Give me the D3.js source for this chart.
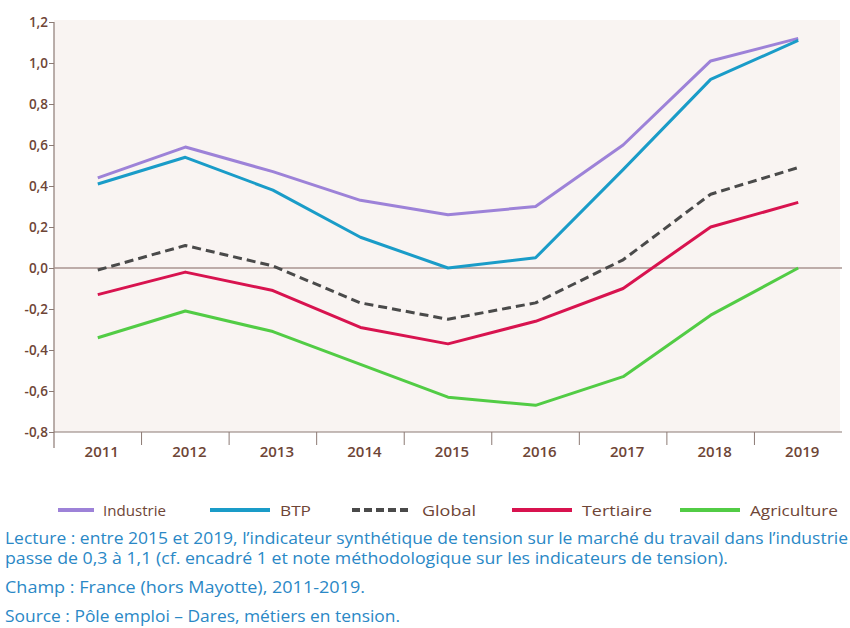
<!DOCTYPE html>
<html><head><meta charset="utf-8">
<script src="https://cdn.jsdelivr.net/npm/d3@7"></script>
<style>
body{margin:0;background:#fff;}
svg{display:block;font-family:"Open Sans",sans-serif;}
</style></head>
<body><svg id="c" width="850" height="628"></svg>
<script>
const years = ["2011","2012","2013","2014","2015","2016","2017","2018","2019"];
const industrie   = [0.44, 0.59, 0.47, 0.33, 0.26, 0.30, 0.60, 1.01, 1.12];
const btp         = [0.41, 0.54, 0.38, 0.15, 0.00, 0.05, 0.48, 0.92, 1.11];
const global      = [-0.01, 0.11, 0.01, -0.17, -0.25, -0.17, 0.04, 0.36, 0.49];
const tertiaire   = [-0.13, -0.02, -0.11, -0.29, -0.37, -0.26, -0.10, 0.20, 0.32];
const agriculture = [-0.34, -0.21, -0.31, -0.47, -0.63, -0.67, -0.53, -0.23, 0.00];
const yTicks = [1.2, 1.0, 0.8, 0.6, 0.4, 0.2, 0.0, -0.2, -0.4, -0.6, -0.8];
const seriesNames = ["Industrie","BTP","Global","Tertiaire","Agriculture"];
const notes = [
  "Lecture : entre 2015 et 2019, l\u2019indicateur synthétique de tension sur le marché du travail dans l\u2019industrie",
  "passe de 0,3 à 1,1 (cf. encadré 1 et note méthodologique sur les indicateurs de tension).",
  "Champ : France (hors Mayotte), 2011-2019.",
  "Source : Pôle emploi – Dares, métiers en tension."
];

const series = [
  {name:"Industrie", values:industrie, color:"#9d82d8", dash:null},
  {name:"BTP", values:btp, color:"#1a9cc8", dash:null},
  {name:"Global", values:global, color:"#4a4a4a", dash:"9,5"},
  {name:"Tertiaire", values:tertiaire, color:"#d8134f", dash:null},
  {name:"Agriculture", values:agriculture, color:"#52cc45", dash:null}
];

const svg = d3.select("#c");
const L = 54, R = 842, T = 20, B = 432;
const x = d3.scaleBand().domain(years).range([L, R]);
const y = d3.scaleLinear().domain([-0.8, 1.2]).range([B, 22]);
const loc = d3.formatLocale({decimal:",", thousands:" ", grouping:[3], currency:["","€"], minus:"-"});
const fmt = loc.format(".1f");
const axisCol = "#8c7a74", txtCol = "#6e4536";

svg.append("rect").attr("x", L).attr("y", T).attr("width", 840 - L).attr("height", B - T).attr("fill", "#f9f4f2");

// y axis
const ya = svg.append("g").attr("transform", `translate(${L},0)`)
  .call(d3.axisLeft(y).tickValues(yTicks).tickFormat(fmt).tickSize(5).tickSizeOuter(0));
ya.select(".domain").remove();
ya.selectAll(".tick line").attr("stroke", axisCol);
ya.selectAll(".tick text").attr("fill", txtCol).attr("font-size", 13.5).attr("font-weight", 600)
  .attr("font-family", "'Open Sans',sans-serif").attr("x", -6);
svg.append("line").attr("x1", L).attr("x2", L).attr("y1", 22).attr("y2", 448).attr("stroke", axisCol).attr("stroke-width", 1.2);

// x axis
svg.append("line").attr("x1", L).attr("x2", R).attr("y1", B).attr("y2", B).attr("stroke", axisCol).attr("stroke-width", 1.2);
svg.append("g").selectAll("line").data(years.slice(1)).join("line")
  .attr("x1", d => x(d)).attr("x2", d => x(d)).attr("y1", B).attr("y2", B + 13)
  .attr("stroke", axisCol).attr("stroke-width", 1);
svg.append("g").selectAll("text").data(years).join("text")
  .attr("x", d => x(d) + x.bandwidth() / 2 + 4).attr("y", B + 25)
  .attr("text-anchor", "middle").attr("fill", txtCol).attr("font-size", 15).attr("font-weight", 600)
  .text(d => d);

// zero line
svg.append("line").attr("x1", L).attr("x2", R).attr("y1", y(0)).attr("y2", y(0)).attr("stroke", "#a89590").attr("stroke-width", 1.3);

// lines
const line = d3.line().x((d, i) => x(years[i]) + x.bandwidth() / 2).y(d => y(d));
svg.append("g").selectAll("path").data(series).join("path")
  .attr("d", d => line(d.values)).attr("fill", "none").attr("stroke", d => d.color)
  .attr("stroke-width", 3).attr("stroke-dasharray", d => d.dash).attr("stroke-linejoin", "round");

// legend
const legX = [58, 210, 352, 512, 680];
const legW = [63, 31, 54, 70, 88];
const lg = svg.append("g").selectAll("g").data(series).join("g")
  .attr("transform", (d, i) => `translate(${legX[i]},510)`);
lg.append("line").attr("x1", 0).attr("x2", (d, i) => i === 0 ? 36 : 60).attr("y1", 0).attr("y2", 0)
  .attr("stroke", d => d.color).attr("stroke-width", 4).attr("stroke-dasharray", d => d.dash ? "8,4" : null);
lg.append("text").attr("x", (d, i) => i === 0 ? 45 : 70).attr("y", 5.5).attr("fill", txtCol)
  .attr("font-size", 15).attr("textLength", (d, i) => legW[i]).attr("lengthAdjust", "spacingAndGlyphs")
  .text((d, i) => seriesNames[i]);

// notes
const noteY = [544, 564, 593, 622];
const noteW = [843, 723, 360, 395];
svg.append("g").selectAll("text").data(notes).join("text")
  .attr("x", 5).attr("y", (d, i) => noteY[i]).attr("fill", "#2a88c6").attr("font-size", 15.5)
  .attr("textLength", (d, i) => noteW[i]).attr("lengthAdjust", "spacingAndGlyphs")
  .text(d => d);
</script></body></html>
